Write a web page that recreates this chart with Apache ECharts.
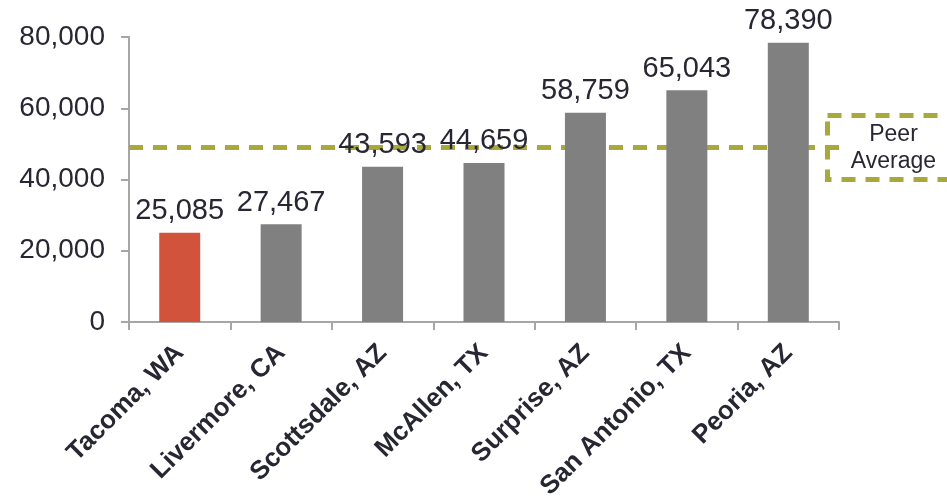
<!DOCTYPE html>
<html><head><meta charset="utf-8">
<script src="https://cdn.jsdelivr.net/npm/echarts@6/dist/echarts.min.js"></script>
<style>html,body{margin:0;padding:0;background:#fff}#c{width:947px;height:496px}</style>
</head><body><div id="c"></div>
<script>
const categories = ['Tacoma, WA','Livermore, CA','Scottsdale, AZ','McAllen, TX','Surprise, AZ','San Antonio, TX','Peoria, AZ'];
const values = [25085, 27467, 43593, 44659, 58759, 65043, 78390];
const highlightCity = 'Tacoma, WA';
const peerAverage = 49000;
const peerLabel = 'Peer\nAverage';
const yTicks = { min: 0, max: 80000, interval: 20000 };

const txt = '#272733';
const olive = '#aba83a';
const fmt = v => Number(v).toLocaleString('en-US');
const chart = echarts.init(document.getElementById('c'), null, {renderer:'canvas'});
chart.setOption({
  animation: false,
  grid: { left: 129, right: 108, top: 37, bottom: 174, containLabel: false, outerBoundsMode: 'none' },
  xAxis: {
    type: 'category', data: categories,
    axisLine: { lineStyle: { color: '#a6a6a6', width: 2 } },
    axisTick: { show: true, length: 8, lineStyle: { color: '#a6a6a6', width: 2 } },
    axisLabel: { rotate: 45, interval: 0, margin: 27, color: txt, fontWeight: 'bold',
      fontSize: 26, fontFamily: 'Liberation Sans, Arial, sans-serif' }
  },
  yAxis: {
    type: 'value', min: yTicks.min, max: yTicks.max, interval: yTicks.interval,
    splitLine: { show: false },
    axisLine: { show: true, lineStyle: { color: '#a6a6a6', width: 2 } },
    axisTick: { show: true, length: 8, lineStyle: { color: '#a6a6a6', width: 2 } },
    axisLabel: { margin: 24, color: txt, fontSize: 28, formatter: fmt,
      fontFamily: 'Liberation Sans, Arial, sans-serif' }
  },
  series: [{
    type: 'bar', barWidth: 41,
    data: values.map((v, i) => ({ value: v, itemStyle: { color: categories[i] === highlightCity ? '#d1533c' : '#808080' } })),
    label: { show: true, position: 'top', distance: 7, color: txt, fontSize: 29,
      fontFamily: 'Liberation Sans, Arial, sans-serif', formatter: p => fmt(p.value) },
    markLine: {
      silent: true, symbol: 'none', z: 1,
      label: { show: false },
      lineStyle: { color: olive, width: 5, type: [14, 10] },
      data: [{ yAxis: peerAverage }]
    },
    z: 2
  }],
  graphic: [{
    type: 'group', left: 825, top: 113, z: 100,
    children: [{
      type: 'rect', shape: { x: 0, y: 0, width: 150, height: 64 },
      style: { fill: '#fff', stroke: olive, lineWidth: 5, lineDash: [14, 10] }
    }, {
      type: 'text', style: { x: 66, y: 33, text: peerLabel, align: 'center', verticalAlign: 'middle',
        fill: txt, fontSize: 23, lineHeight: 27, fontFamily: 'Liberation Sans, Arial, sans-serif' }
    }]
  }]
});
</script></body></html>
